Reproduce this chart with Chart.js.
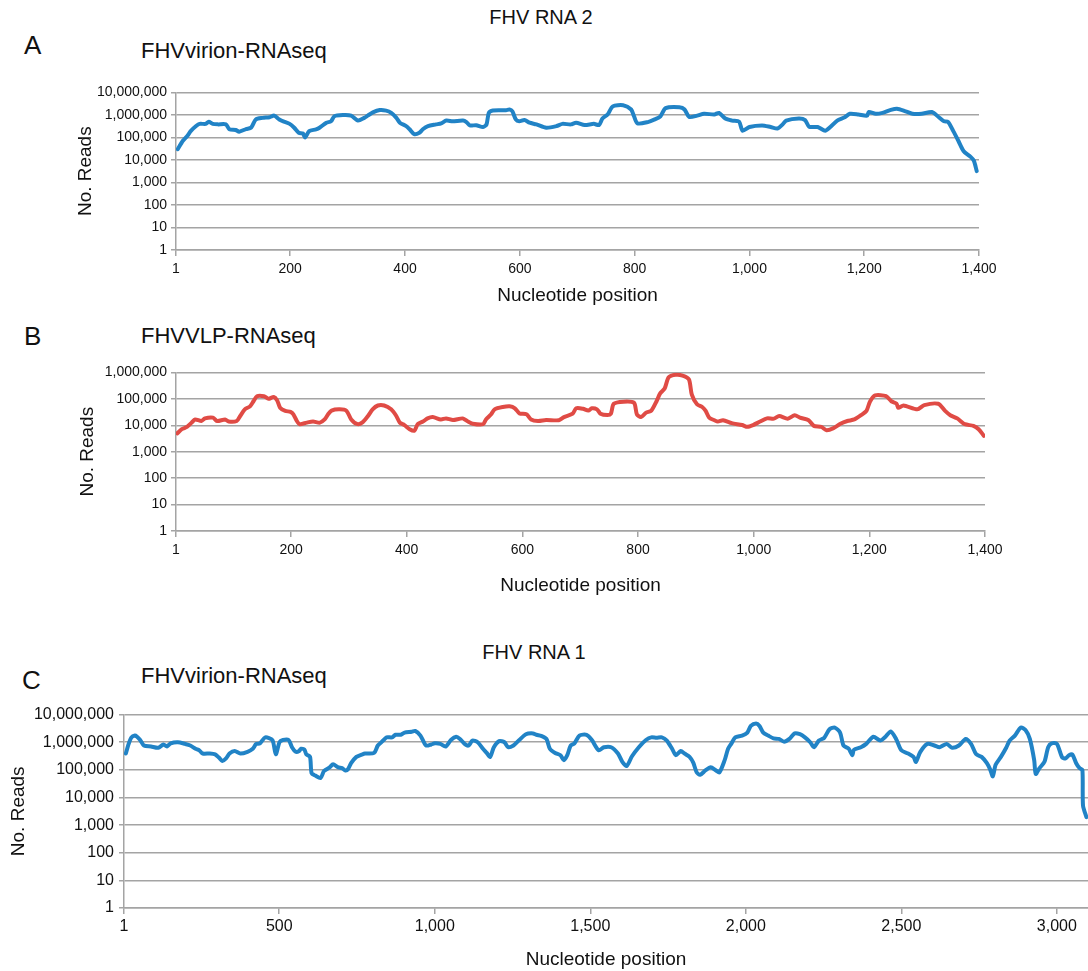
<!DOCTYPE html>
<html>
<head>
<meta charset="utf-8">
<script src="https://cdn.jsdelivr.net/npm/chart.js@4.4.1/dist/chart.umd.min.js"></script>
<style>
    body { margin: 0; background: #fff; width: 1088px; height: 971px; position: relative; overflow: hidden; font-family: "Liberation Sans", Arial, sans-serif; color: #111; }
    .txt { position: absolute; line-height: 1; white-space: nowrap; }
    .box { position: absolute; left: 0; width: 1088px; }
</style>
</head>
<body>
<div class="txt" style="left:541px; top:7px; font-size:20px; transform:translateX(-50%);">FHV RNA 2</div>
<div class="txt" style="left:24px; top:32px; font-size:26px;">A</div>
<div class="txt" style="left:141px; top:40px; font-size:22px;">FHVvirion-RNAseq</div>
<div class="box" style="top:80px; height:230px;"><canvas id="chartA" width="1088" height="230"></canvas></div>

<div class="txt" style="left:24px; top:323px; font-size:26px;">B</div>
<div class="txt" style="left:141px; top:325px; font-size:22px;">FHVVLP-RNAseq</div>
<div class="box" style="top:360px; height:240px;"><canvas id="chartB" width="1088" height="240"></canvas></div>

<div class="txt" style="left:534px; top:642px; font-size:20px; transform:translateX(-50%);">FHV RNA 1</div>
<div class="txt" style="left:22px; top:667px; font-size:26px;">C</div>
<div class="txt" style="left:141px; top:665px; font-size:22px;">FHVvirion-RNAseq</div>
<div class="box" style="top:700px; height:271px;"><canvas id="chartC" width="1088" height="271"></canvas></div>

<script>
// tick labels
const rna2Ticks = [1, 200, 400, 600, 800, 1000, 1200, 1400];
const rna1Ticks = [1, 500, 1000, 1500, 2000, 2500, 3000];
const readTicks7 = [1, 10, 100, 1000, 10000, 100000, 1000000, 10000000];
const readTicks6 = [1, 10, 100, 1000, 10000, 100000, 1000000];

// A: FHV RNA 2, virion
const posA = [4, 13, 21, 27, 36, 42, 53, 58, 65, 74, 88, 94, 105, 111, 123, 132, 140, 152, 164, 172,
    181, 189, 199, 207, 215, 222, 226, 233, 245, 251, 263, 271, 277, 292, 306, 318, 329, 335, 344, 356,
    367, 376, 385, 391, 402, 408, 416, 425, 431, 440, 454, 463, 472, 483, 501, 507, 513, 524, 536, 542,
    546, 553, 576, 582, 587, 593, 599, 608, 617, 629, 646, 664, 674, 689, 698, 713, 729, 738, 744, 753,
    762, 780, 794, 799, 805, 823, 835, 845, 854, 878, 887, 895, 909, 921, 939, 947, 958, 970, 982, 988,
    1000, 1022, 1037, 1049, 1058, 1064, 1086, 1097, 1104, 1119, 1132, 1141, 1153, 1166, 1175, 1190, 1205, 1208, 1220, 1232,
    1245, 1257, 1272, 1284, 1300, 1318, 1330, 1339, 1346, 1355, 1364, 1373, 1385, 1391, 1396];
const readsA = [30000, 71000, 120000, 195000, 320000, 400000, 400000, 500000, 400000, 380000, 380000, 230000, 215000, 180000, 235000, 275000, 630000, 740000, 790000, 930000,
    630000, 500000, 400000, 270000, 160000, 150000, 100000, 190000, 230000, 270000, 450000, 520000, 870000, 980000, 930000, 560000, 740000, 930000, 1300000, 1650000,
    1550000, 1230000, 740000, 450000, 320000, 230000, 140000, 160000, 230000, 320000, 380000, 420000, 560000, 520000, 560000, 480000, 340000, 350000, 290000, 380000,
    1230000, 1580000, 1620000, 1740000, 1450000, 630000, 520000, 590000, 450000, 380000, 270000, 320000, 400000, 380000, 450000, 355000, 400000, 355000, 690000, 1050000,
    2400000, 2700000, 1740000, 870000, 420000, 480000, 630000, 870000, 2000000, 2200000, 1740000, 810000, 930000, 1120000, 1050000, 1230000, 690000, 560000, 500000, 200000,
    290000, 340000, 290000, 250000, 380000, 560000, 690000, 590000, 300000, 290000, 200000, 290000, 560000, 790000, 1120000, 1050000, 930000, 1350000, 1120000, 1230000,
    1620000, 1900000, 1450000, 1120000, 1120000, 1350000, 790000, 520000, 490000, 195000, 71000, 25000, 14000, 9300, 3200];

// B: FHV RNA 2, VLP
const posB = [3, 11, 20, 28, 34, 45, 51, 65, 72, 86, 92, 106, 112, 120, 129, 135, 141, 153, 161, 170,
    176, 181, 190, 199, 204, 210, 215, 227, 238, 250, 258, 264, 270, 284, 296, 304, 315, 324, 333, 341,
    350, 361, 373, 382, 388, 396, 405, 413, 419, 428, 436, 445, 459, 468, 480, 497, 506, 514, 532, 537,
    546, 552, 566, 578, 587, 595, 607, 615, 627, 641, 663, 672, 687, 693, 705, 714, 720, 729, 735, 747,
    753, 758, 775, 793, 798, 805, 814, 823, 832, 838, 846, 853, 865, 877, 888, 893, 902, 911, 917, 923,
    932, 938, 947, 962, 980, 989, 999, 1011, 1023, 1035, 1044, 1059, 1071, 1080, 1095, 1104, 1117, 1126, 1138, 1150,
    1162, 1174, 1186, 1195, 1201, 1210, 1229, 1238, 1247, 1250, 1259, 1283, 1295, 1319, 1331, 1340, 1352, 1365, 1380, 1389, 1398];
const readsB = [4900, 7100, 8700, 12600, 16600, 14500, 18200, 19500, 14500, 16600, 13800, 14500, 22400, 40000, 52000, 81000, 126000, 126000, 100000, 118000,
    87000, 46000, 35000, 32000, 26000, 14500, 11000, 12600, 13800, 12600, 16600, 26000, 36000, 40000, 35000, 16600, 11000, 13200, 22400, 40000,
    56000, 56000, 40000, 22400, 12600, 10200, 7100, 6200, 11000, 13800, 18200, 20400, 16600, 18200, 15800, 18200, 13800, 11500, 11000, 16600,
    26000, 40000, 49000, 52000, 44000, 28000, 26000, 16600, 14500, 15800, 15500, 20400, 27500, 44000, 42000, 36000, 44000, 40000, 27500, 24500,
    27500, 65000, 78000, 71000, 26000, 20400, 30000, 36000, 81000, 158000, 245000, 650000, 810000, 760000, 540000, 145000, 62000, 49000, 35000, 19500,
    15500, 13800, 15500, 12000, 10200, 8700, 10200, 13800, 18200, 17800, 22400, 17800, 24000, 19500, 15500, 9500, 8700, 6500, 7800, 11500,
    14500, 16600, 24500, 35000, 78000, 135000, 126000, 81000, 66000, 46000, 56000, 40000, 58000, 65000, 35000, 24000, 18200, 11000, 9500, 7100, 4000];

// C: FHV RNA 1, virion
const posC = [7, 16, 25, 36, 42, 53, 65, 88, 111, 128, 139, 151, 174, 197, 214, 231, 243, 254, 277, 294,
    306, 317, 329, 340, 357, 375, 398, 415, 426, 438, 455, 478, 489, 501, 512, 530, 541, 553, 564, 570,
    581, 587, 599, 604, 616, 633, 644, 662, 673, 690, 702, 713, 721, 731, 748, 765, 776, 805, 817, 834,
    845, 863, 874, 891, 903, 926, 937, 954, 972, 989, 1000, 1018, 1035, 1052, 1069, 1081, 1098, 1109, 1121, 1138,
    1155, 1167, 1178, 1190, 1207, 1224, 1236, 1253, 1270, 1293, 1316, 1327, 1342, 1359, 1370, 1387, 1404, 1415, 1426, 1437,
    1449, 1465, 1488, 1505, 1527, 1544, 1567, 1589, 1603, 1617, 1634, 1656, 1679, 1696, 1713, 1730, 1746, 1763, 1775, 1791,
    1803, 1819, 1831, 1842, 1853, 1870, 1887, 1904, 1915, 1932, 1943, 1954, 1966, 1988, 2005, 2016, 2033, 2044, 2056, 2072,
    2089, 2106, 2123, 2140, 2157, 2174, 2190, 2207, 2219, 2235, 2252, 2269, 2286, 2303, 2314, 2331, 2342, 2348, 2370, 2387,
    2410, 2432, 2449, 2466, 2483, 2500, 2522, 2539, 2547, 2561, 2584, 2606, 2623, 2646, 2663, 2685, 2707, 2724, 2741, 2758,
    2775, 2786, 2794, 2803, 2820, 2837, 2848, 2865, 2884, 2899, 2913, 2927, 2932, 2944, 2960, 2972, 2983, 3000, 3017, 3028,
    3039, 3050, 3062, 3073, 3082, 3084, 3095];
const readsC = [390000, 870000, 1500000, 1740000, 1620000, 1200000, 760000, 700000, 630000, 830000, 700000, 910000, 1000000, 870000, 760000, 580000, 510000, 390000, 390000, 365000,
    280000, 210000, 260000, 390000, 480000, 390000, 450000, 580000, 870000, 910000, 1500000, 1200000, 365000, 1000000, 1200000, 1200000, 660000, 450000, 480000, 580000,
    540000, 365000, 295000, 76000, 62000, 51000, 91000, 123000, 158000, 123000, 115000, 95000, 105000, 174000, 295000, 355000, 390000, 410000, 760000, 1150000,
    1500000, 1500000, 1860000, 1860000, 2240000, 2400000, 2570000, 1740000, 760000, 830000, 910000, 870000, 700000, 1200000, 1580000, 1320000, 830000, 760000, 1150000, 1000000,
    580000, 410000, 295000, 660000, 1100000, 1000000, 660000, 760000, 1150000, 1950000, 2090000, 1860000, 1700000, 1320000, 580000, 410000, 340000, 225000, 340000, 760000,
    910000, 1740000, 1860000, 1200000, 510000, 660000, 660000, 390000, 195000, 138000, 310000, 660000, 1200000, 1500000, 1450000, 1500000, 1150000, 580000, 340000, 480000,
    390000, 295000, 182000, 81000, 66000, 95000, 123000, 95000, 81000, 225000, 580000, 910000, 1500000, 1740000, 2240000, 3900000, 4800000, 3900000, 2240000, 1740000,
    1380000, 1320000, 1050000, 1320000, 2090000, 1950000, 1500000, 1000000, 660000, 1150000, 1450000, 2950000, 3390000, 2240000, 760000, 580000, 340000, 540000, 660000, 870000,
    1580000, 1150000, 1580000, 2450000, 1320000, 510000, 390000, 295000, 195000, 450000, 870000, 760000, 660000, 870000, 630000, 760000, 1320000, 870000, 365000, 295000,
    174000, 100000, 58000, 152000, 295000, 630000, 1150000, 1740000, 3390000, 2750000, 1320000, 225000, 71000, 115000, 195000, 660000, 910000, 870000, 280000, 260000,
    340000, 355000, 174000, 115000, 100000, 5100, 1950];

const gridGrey = '#a4a4a4';
const fmt = v => Number(v).toLocaleString('en-US');

function runGraph(id, xs, ys, color, cfg) {
    let ctx = document.getElementById(id).getContext('2d');
    return new Chart(ctx, {
        type: 'line',
        data: {
            datasets: [{
                data: xs.map((x, i) => ({ x: x, y: ys[i] })),
                borderColor: color,
                borderWidth: 4,
                pointRadius: 0,
                tension: 0.25,
                borderJoinStyle: 'round',
                borderCapStyle: 'round',
                fill: false,
            }],
        },
        options: {
            responsive: false,
            animation: false,
            layout: {
                padding: { top: cfg.padTop, right: cfg.padRight, left: 0, bottom: 0 }
            },
            scales: {
                x: {
                    type: 'linear',
                    min: 1,
                    max: cfg.xMax,
                    afterBuildTicks: axis => { axis.ticks = cfg.xTicks.map(v => ({ value: v })); },
                    afterFit: axis => { axis.height = cfg.xHeight; },
                    ticks: {
                        color: '#111',
                        padding: cfg.xTickPad,
                        maxRotation: 0,
                        autoSkip: false,
                        font: { family: 'Liberation Sans', size: cfg.tickSize },
                        callback: v => fmt(v)
                    },
                    grid: {
                        drawOnChartArea: false,
                        drawTicks: true,
                        tickLength: 6,
                        color: gridGrey,
                        lineWidth: 1.5
                    },
                    border: { display: true, color: gridGrey, width: 1.5 },
                    title: {
                        display: true,
                        text: 'Nucleotide position',
                        color: '#111',
                        font: { family: 'Liberation Sans', size: 19 },
                        padding: { top: 0, bottom: cfg.xTitlePad }
                    }
                },
                y: {
                    type: 'logarithmic',
                    min: 1,
                    max: cfg.yMax,
                    afterBuildTicks: axis => { axis.ticks = cfg.yTicks.map(v => ({ value: v })); },
                    afterFit: axis => { axis.width = cfg.yWidth; },
                    ticks: {
                        color: '#111',
                        padding: cfg.yTickPad,
                        font: { family: 'Liberation Sans', size: cfg.tickSize },
                        callback: v => fmt(v)
                    },
                    grid: {
                        drawTicks: true,
                        tickLength: 5,
                        color: gridGrey,
                        lineWidth: 1.5
                    },
                    border: { display: true, color: gridGrey, width: 1.5 },
                    title: {
                        display: true,
                        text: 'No. Reads',
                        color: '#111',
                        font: { family: 'Liberation Sans', size: 19 },
                        padding: { top: cfg.yTitlePad, bottom: 0 }
                    }
                }
            },
            plugins: {
                legend: { display: false },
                tooltip: { enabled: false }
            }
        }
    });
}

runGraph('chartA', posA, readsA, '#2183c6', {
    padTop: 11, padRight: 109, xMax: 1400, xTicks: rna2Ticks, yMax: 10000000, yTicks: readTicks7,
    xHeight: 60, yWidth: 176, tickSize: 14, xTickPad: 5, yTickPad: 4, xTitlePad: 3, yTitlePad: 74
});
runGraph('chartB', posB, readsB, '#e04b45', {
    padTop: 10, padRight: 103, xMax: 1400, xTicks: rna2Ticks, yMax: 1000000, yTicks: readTicks6,
    xHeight: 69, yWidth: 176, tickSize: 14, xTickPad: 5, yTickPad: 4, xTitlePad: 3, yTitlePad: 76
});
runGraph('chartC', posC, readsC, '#2183c6', {
    padTop: 10, padRight: 0, xMax: 3100, xTicks: rna1Ticks, yMax: 10000000, yTicks: readTicks7,
    xHeight: 63, yWidth: 124, tickSize: 16, xTickPad: 3, yTickPad: 5, xTitlePad: 0, yTitlePad: 7
});
</script>
</body>
</html>
